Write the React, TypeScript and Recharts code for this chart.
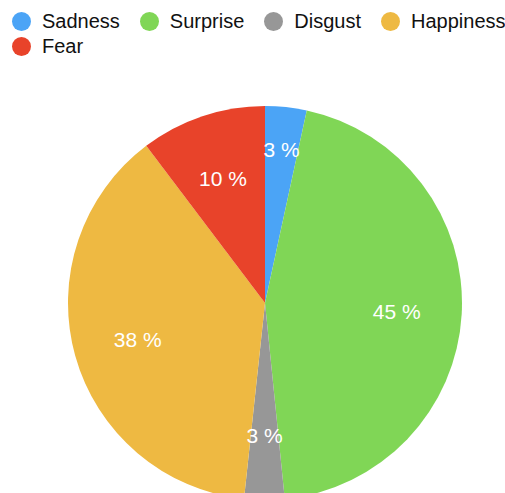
import { PieChart, Pie, Cell } from 'recharts';

const emotions = ['Sadness', 'Surprise', 'Disgust', 'Happiness', 'Fear'];
const shares = [3.4, 45, 3.3, 38, 10.3];
const colors = ['#4BA4F6', '#80D656', '#979797', '#EEB942', '#E8432A'];

const data = emotions.map((name, i) => ({ name, value: shares[i] }));

const RAD = Math.PI / 180;

const renderLabel = (props: any) => {
  const { cx, cy, midAngle, outerRadius, percent, index } = props;
  const r = outerRadius * (index === 0 ? 0.79 : 0.67);
  const x = cx + r * Math.cos(-midAngle * RAD);
  const y = cy + r * Math.sin(-midAngle * RAD);
  return (
    <text
      x={x}
      y={y + 1}
      fill="#fff"
      textAnchor="middle"
      dominantBaseline="central"
      fontSize={21}
      fontFamily="'Liberation Sans', Arial, sans-serif"
    >
      {`${Math.round(percent * 100)} %`}
    </text>
  );
};

const App = () => {
  return (
    <div style={{ position: 'fixed', top: 0, left: 0, width: 505, height: 493, background: '#fff', overflow: 'hidden' }}>
      <div
        style={{
          position: 'absolute',
          top: 9,
          left: 12,
          width: 540,
          display: 'flex',
          flexWrap: 'wrap',
          fontFamily: "'Liberation Sans', Arial, sans-serif",
          fontSize: 20,
          lineHeight: '25px',
          color: '#111',
          whiteSpace: 'nowrap',
        }}
      >
        {emotions.map((name, i) => (
          <div key={name} style={{ display: 'flex', alignItems: 'center', marginRight: 20 }}>
            <span
              style={{
                display: 'inline-block',
                width: 19,
                height: 19,
                borderRadius: 10,
                background: colors[i],
                marginRight: 11,
              }}
            />
            <span>{name}</span>
          </div>
        ))}
      </div>
      <PieChart
        width={505}
        height={493}
        margin={{ top: 0, right: 0, bottom: 0, left: 0 }}
        style={{ position: 'absolute', top: 0, left: 0 }}
      >
        <Pie
          data={data}
          dataKey="value"
          nameKey="name"
          cx={265}
          cy={303}
          outerRadius={197}
          startAngle={90}
          endAngle={-270}
          stroke="none"
          labelLine={false}
          label={renderLabel}
          isAnimationActive={false}
        >
          {data.map((d, i) => (
            <Cell key={d.name} fill={colors[i]} />
          ))}
        </Pie>
      </PieChart>
    </div>
  );
};

export default App;
